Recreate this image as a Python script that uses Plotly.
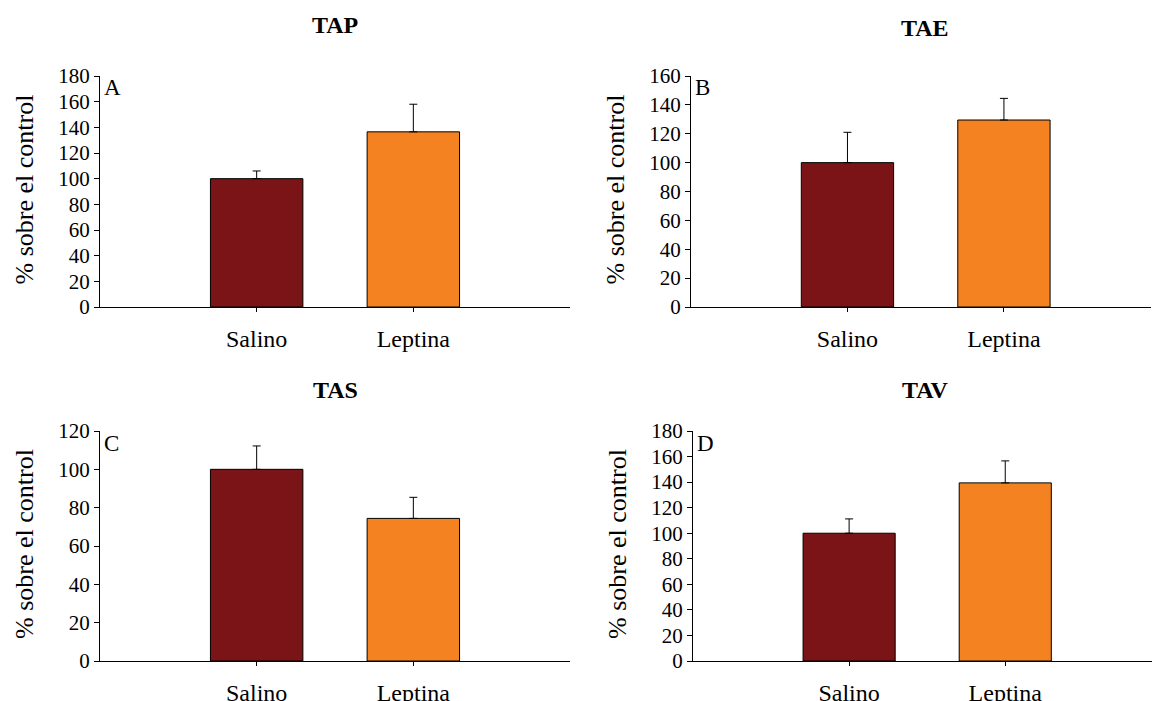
import plotly.graph_objects as go

categories = ["Salino", "Leptina"]
panel_titles = ["TAP", "TAE", "TAS", "TAV"]
panel_letters = ["A", "B", "C", "D"]
values_tap = [100, 136.5]
errors_tap = [6, 21.5]
values_tae = [100, 129.5]
errors_tae = [21, 15]
values_tas = [100, 74.4]
errors_tas = [12.2, 11]
values_tav = [100, 139.4]
errors_tav = [11.2, 17.2]
y_max = [180, 160, 120, 180]
y_dtick = [20, 20, 20, 20]
y_title = "% sobre el control"
colors = ["#7B1416", "#F58220"]

W, H = 1152, 701
FONT = "Liberation Serif"

def px_x(p):
    return p / W

def px_y(p):
    return 1 - p / H

# pixel boxes: (left, right, top, bottom)
boxes = [(100, 570, 76, 307), (691, 1151, 76, 307), (100, 570, 431, 661), (693, 1152, 431, 661)]
x_ranges = [[-1, 2], [-1, 1.94], [-1, 2], [-1, 1.94]]
title_x = [335, 925, 335, 925]
title_y = [25, 28, 390, 390]

all_vals = [values_tap, values_tae, values_tas, values_tav]
all_errs = [errors_tap, errors_tae, errors_tas, errors_tav]

fig = go.Figure()
layout = dict(
    template="none",
    width=W, height=H, margin=dict(l=0, r=0, t=0, b=0, autoexpand=False),
    plot_bgcolor="white", paper_bgcolor="white", showlegend=False,
    font=dict(family=FONT, color="black"),
)
annotations = []
for i in range(4):
    ax = "" if i == 0 else str(i + 1)
    l, r, t, b = boxes[i]
    fig.add_trace(go.Bar(
        x=categories, y=all_vals[i],
        marker=dict(color=colors, line=dict(color="black", width=1)),
        width=0.59,
        error_y=dict(type="data", array=all_errs[i], symmetric=False, arrayminus=[0, 0],
                     color="black", thickness=1, width=4),
        xaxis="x" + ax, yaxis="y" + ax,
    ))
    layout["xaxis" + ax] = dict(
        domain=[px_x(l), px_x(r)], anchor="y" + ax, range=x_ranges[i],
        showline=True, linecolor="black", linewidth=1, automargin=False,
        ticks="outside", ticklen=4, tickcolor="black",
        tickfont=dict(size=24, family=FONT, color="black"), showgrid=False,
        ticklabelstandoff=6, fixedrange=True, zeroline=False,
    )
    layout["yaxis" + ax] = dict(
        domain=[px_y(b), px_y(t)], anchor="x" + ax, range=[0, y_max[i]],
        dtick=y_dtick[i], showline=True, linecolor="black", linewidth=1,
        ticks="outside", ticklen=5, tickcolor="black", automargin=False,
        tickfont=dict(size=21, family=FONT, color="black"), showgrid=False, zeroline=False,
        fixedrange=True,
    )
    annotations.append(dict(
        text="<b>" + panel_titles[i] + "</b>", xref="paper", yref="paper",
        x=px_x(title_x[i]), y=px_y(title_y[i]),
        xanchor="center", yanchor="middle", showarrow=False,
        font=dict(size=24, family=FONT, color="black"),
    ))
    annotations.append(dict(
        text=panel_letters[i], xref="paper", yref="paper",
        x=px_x(l + 2), y=px_y(t + 12), xanchor="left", yanchor="middle",
        showarrow=False, font=dict(size=23, family=FONT, color="black"),
    ))
    annotations.append(dict(
        text=y_title, xref="paper", yref="paper",
        x=px_x(l - 76), y=px_y((t + b) / 2 - 2), xanchor="center", yanchor="middle",
        textangle=-90, showarrow=False, font=dict(size=26, family=FONT, color="black"),
    ))
layout["annotations"] = annotations
fig.update_layout(**layout)
fig.write_html("out.html", config={"displayModeBar": False},
               post_script="document.body.style.margin='0';document.body.style.overflow='hidden';")
